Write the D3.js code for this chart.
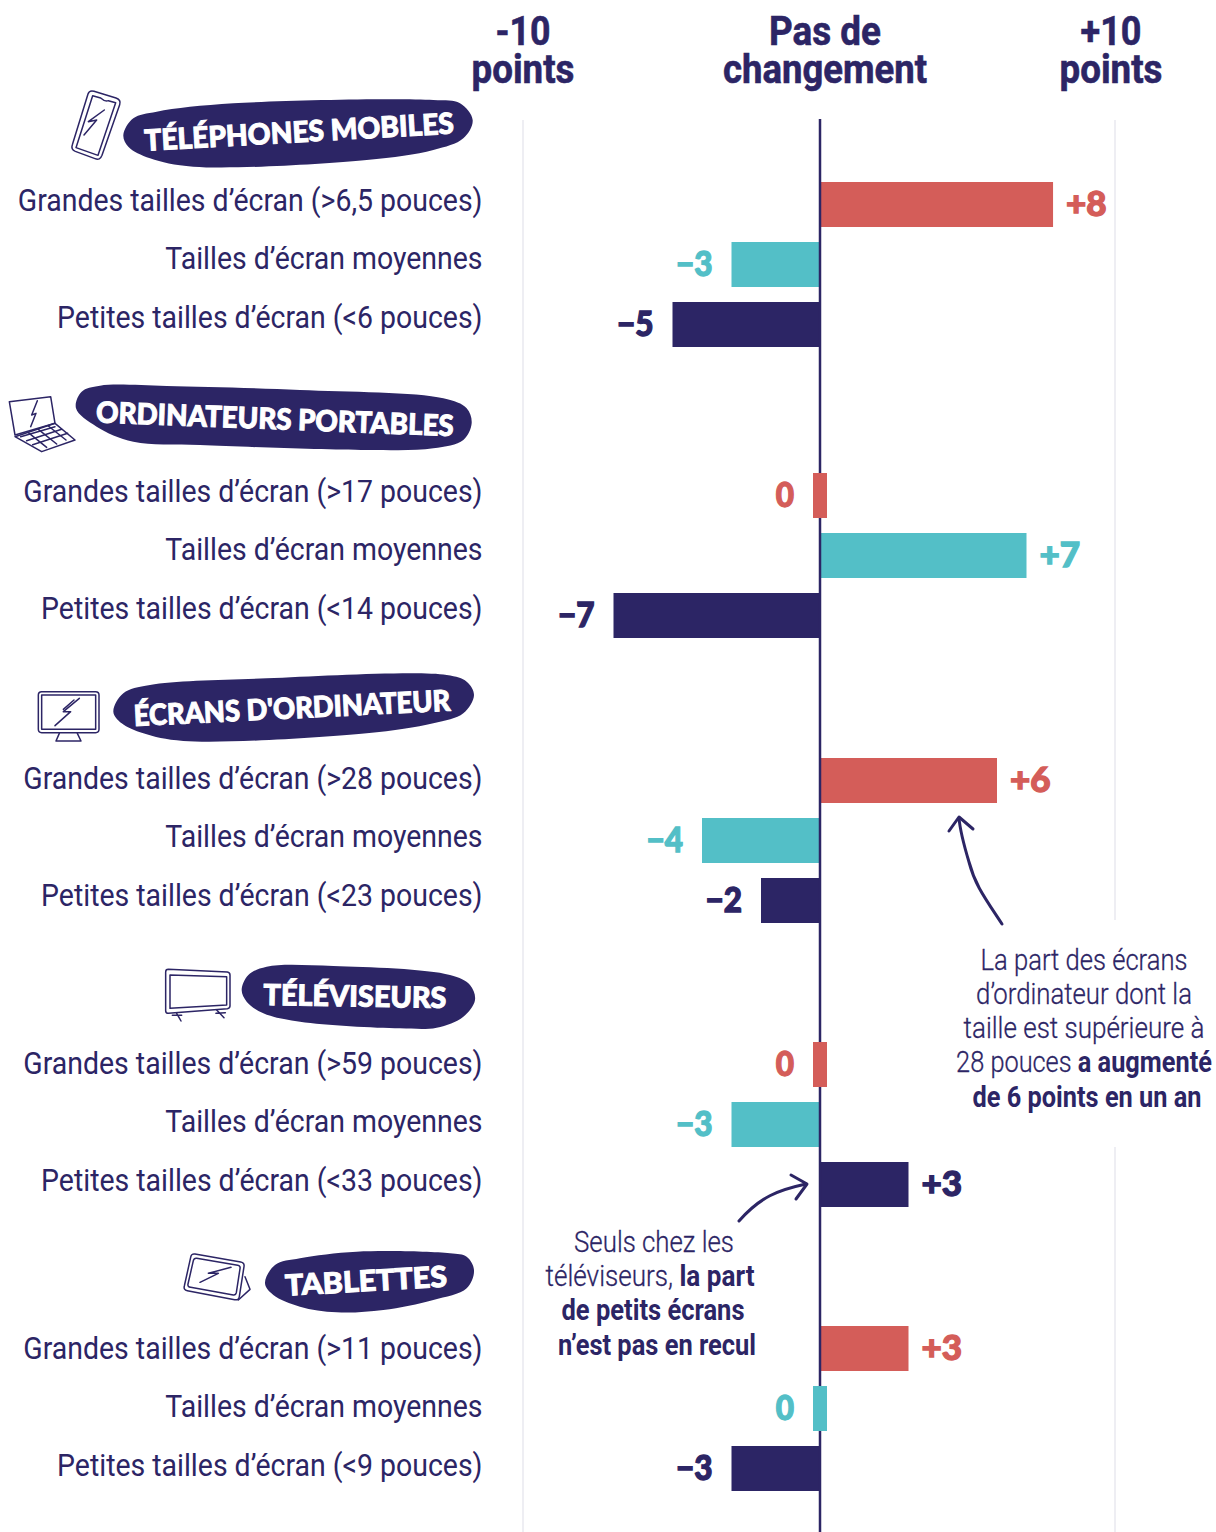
<!DOCTYPE html>
<html lang="fr">
<head>
<meta charset="utf-8">
<script src="https://cdn.jsdelivr.net/npm/d3@7"></script>
<style>
  body { margin: 0; background: #fff; }
  svg { display: block; }
  text { font-family: Roboto, sans-serif; fill: #2c2565; }
</style>
</head>
<body>
<div id="chart"></div>
<script>
// Data
const groupNames = ['TÉLÉPHONES MOBILES', 'ORDINATEURS PORTABLES', 'ÉCRANS D\'ORDINATEUR', 'TÉLÉVISEURS', 'TABLETTES'];
const rowNames = ['grandes', 'moyennes', 'petites'];
const rowLabels = [
  ['Grandes tailles d’écran (>6,5 pouces)', 'Tailles d’écran moyennes', 'Petites tailles d’écran (<6 pouces)'],
  ['Grandes tailles d’écran (>17 pouces)', 'Tailles d’écran moyennes', 'Petites tailles d’écran (<14 pouces)'],
  ['Grandes tailles d’écran (>28 pouces)', 'Tailles d’écran moyennes', 'Petites tailles d’écran (<23 pouces)'],
  ['Grandes tailles d’écran (>59 pouces)', 'Tailles d’écran moyennes', 'Petites tailles d’écran (<33 pouces)'],
  ['Grandes tailles d’écran (>11 pouces)', 'Tailles d’écran moyennes', 'Petites tailles d’écran (<9 pouces)']
];
const changes = [
  [7.9, -3, -5],
  [0, 7, -7],
  [6, -4, -2],
  [0, -3, 3],
  [3, 0, -3]
];
const gridValues = [-10, 10];

// Dimensions
const width = 1216;
const height = 1532;
const navy = '#2c2565';
const barHeight = 45;
const zeroStub = 7;

const svg = d3.select('#chart').append('svg').attr('width', width).attr('height', height);

// Scales
const xScale = d3.scaleLinear().domain([-10, 10]).range([525, 1115]);
const groupY = d3.scaleOrdinal(groupNames, [182, 473, 758, 1042, 1326]);
const labelY = d3.scaleOrdinal(groupNames, [211, 502, 789, 1074, 1359]);
const rowY = d3.scalePoint().domain(rowNames).range([0, 120]);
const labelRowY = d3.scalePoint().domain(rowNames).range([0, 116.5]);
const color = d3.scaleOrdinal(rowNames, ['#d45d59', '#53bfc7', navy]);

const rows = groupNames.flatMap((group, g) => rowNames.map((row, r) => ({
  group, row, label: rowLabels[g][r], value: changes[g][r]
})));

// Squeeze regular Roboto down to the condensed look of the original
function measure(el) { return el.getComputedTextLength(); }
function place(sel, x, y, k) { sel.attr('transform', `translate(${x},${y}) scale(${k},1)`); }

// Grid lines
svg.selectAll('.grid')
  .data(gridValues)
  .join('line')
  .attr('class', 'grid')
  .attr('x1', (d) => xScale(d) - (d < 0 ? 2 : 0)).attr('x2', (d) => xScale(d) - (d < 0 ? 2 : 0))
  .attr('y1', 120).attr('y2', height)
  .attr('stroke', '#eeeef3').attr('stroke-width', 2);

// White panel behind the right note cuts the +10 line
svg.append('rect').attr('x', 950).attr('y', 920).attr('width', 266).attr('height', 227).attr('fill', '#fff');

// Bars
const barX = (d) => d.value === 0 ? xScale(0) - zeroStub : Math.min(xScale(0), xScale(d.value));
const barW = (d) => d.value === 0 ? zeroStub * 2 : Math.abs(xScale(d.value) - xScale(0));
const barTop = (d) => groupY(d.group) + rowY(d.row);

function drawBars(data) {
  svg.append('g').selectAll('rect')
    .data(data)
    .join('rect')
    .attr('x', barX).attr('y', barTop)
    .attr('width', barW).attr('height', barHeight)
    .attr('fill', (d) => color(d.row));
}
drawBars(rows.filter((d) => d.value !== 0));

svg.append('line')
  .attr('x1', xScale(0)).attr('x2', xScale(0))
  .attr('y1', 119).attr('y2', height)
  .attr('stroke', navy).attr('stroke-width', 2.5);

drawBars(rows.filter((d) => d.value === 0));

// Value labels
const valueText = (d) => {
  const v = Math.round(d.value);
  return v > 0 ? `+${v}` : v < 0 ? `−${-v}` : '0';
};
svg.append('g').selectAll('text')
  .data(rows)
  .join('text')
  .text(valueText)
  .attr('text-anchor', (d) => d.value > 0 ? 'start' : 'end')
  .style('font-family', 'Lato, sans-serif')
  .attr('font-weight', 900).attr('font-size', 35)
  .style('fill', (d) => color(d.row))
  .style('stroke', (d) => color(d.row))
  .style('stroke-width', 1.3)
  .attr('transform', (d) => {
    const x = d.value > 0 ? xScale(d.value) + 13 : barX(d) - 19;
    return `translate(${x},${barTop(d) + 34}) scale(${d.value > 0 ? 1 : 0.9},1)`;
  });

// Row labels
const rowText = svg.append('g').selectAll('text')
  .data(rows)
  .join('text')
  .text((d) => d.label)
  .attr('text-anchor', 'end')
  .attr('font-size', 32);
const rowK = 465 / measure(rowText.nodes()[0]);
rowText.attr('transform', (d) => `translate(482.5,${labelY(d.group) + labelRowY(d.row)}) scale(${rowK},1)`);

// Header
const headerLines = [
  { text: '-10', x: 523, y: 45, w: 55 },
  { text: 'points', x: 523, y: 83, w: 103 },
  { text: 'Pas de', x: 825, y: 45, w: 112 },
  { text: 'changement', x: 825, y: 83, w: 204 },
  { text: '+10', x: 1111, y: 45, w: 61 },
  { text: 'points', x: 1111, y: 83, w: 103 }
];
svg.append('g').selectAll('text')
  .data(headerLines)
  .join('text')
  .text((d) => d.text)
  .attr('text-anchor', 'middle')
  .attr('font-size', 41).attr('font-weight', 700)
  .style('stroke', navy).style('stroke-width', 0.6)
  .each(function (d) { place(d3.select(this), d.x, d.y, d.w / measure(this)); });

// Title blobs, outlines traced by hand in 3x zoom coordinates
const blobs = [
  { dx: 0, dy: 80, pts: [[370,165],[400,115],[470,95],[700,70],[1300,60],[1380,70],[1418,120],[1390,175],[1300,210],[1100,240],[580,260],[450,235],[385,200]] },
  { dx: 0, dy: 80, pts: [[228,985],[245,935],[300,917],[500,918],[900,930],[1330,955],[1400,985],[1415,1030],[1390,1080],[1300,1105],[1100,1110],[600,1095],[400,1085],[290,1040]] },
  { dx: 0, dy: 660, pts: [[340,155],[370,100],[450,75],[800,55],[1340,45],[1400,65],[1422,105],[1390,160],[1300,190],[1100,220],[550,243],[430,220],[365,190]] },
  { dx: 0, dy: 660, pts: [[725,990],[745,945],[800,920],[1000,918],[1350,945],[1410,975],[1425,1020],[1390,1070],[1310,1103],[1200,1105],[900,1085],[790,1060],[740,1025]] },
  { dx: 150, dy: 1230, pts: [[345,160],[375,105],[450,85],[620,65],[900,70],[950,80],[972,120],[950,175],[850,210],[700,240],[560,247],[450,230],[370,195]] }
];
const blobLine = d3.line().curve(d3.curveCatmullRomClosed.alpha(0.5));
svg.append('g').selectAll('path')
  .data(blobs)
  .join('path')
  .attr('transform', (d) => `translate(${d.dx},${d.dy}) scale(${1 / 3})`)
  .attr('d', (d) => blobLine(d.pts))
  .attr('fill', navy);

const blobTitles = [
  { x: 299, y: 131, angle: -3.2, w: 310 },
  { x: 275, y: 418, angle: 2.2, w: 358 },
  { x: 292, y: 707, angle: -2.8, w: 317 },
  { x: 355, y: 995, angle: 1, w: 183 },
  { x: 366, y: 1280, angle: -3.2, w: 162 }
];
svg.append('g').selectAll('text')
  .data(groupNames)
  .join('text')
  .text((d) => d)
  .attr('text-anchor', 'middle')
  .attr('dominant-baseline', 'central')
  .style('font-family', 'Lato, sans-serif')
  .attr('font-weight', 900).attr('font-size', 29)
  .style('fill', '#fff')
  .style('stroke', '#fff').style('stroke-width', 1)
  .attr('transform', function (d, i) {
    const t = blobTitles[i];
    return `translate(${t.x},${t.y}) rotate(${t.angle}) scale(${t.w / measure(this)},1)`;
  });

// Icons, also in 3x zoom coordinates
const icons = [
  { dx: 0, dy: 80, paths: [
    'M282,34 L348,54 Q364,60 359,74 L306,226 Q300,242 285,236 L226,214 Q212,208 217,194 L264,42 Q268,30 282,34 Z',
    'M278,47 L302,54 Q315,66 325,62 L347,68 L294,226 L228,203 Z',
    'M313,90 L265,125 L290,120 L252,165'
  ] },
  { dx: 0, dy: 80, paths: [
    'M28,965 L152,950 L165,1030 L45,1065 Z',
    'M45,1070 L165,1030 L225,1080 L125,1115 Z',
    'M62,1070 L165,1040 M80,1082 L185,1048 M98,1094 L203,1060',
    'M85,1058 L140,1102 M115,1048 L170,1092 M145,1038 L198,1080',
    'M112,962 L95,1005 L108,1000 L92,1040'
  ] },
  { dx: 0, dy: 660, paths: [
    'M125,95 L287,95 Q297,95 297,105 L297,208 Q297,218 287,218 L125,218 Q115,218 115,208 L115,105 Q115,95 125,95 Z',
    'M125,105 L287,105 L287,208 L125,208 Z',
    'M178,220 L168,243 L243,243 L232,220',
    'M238,115 L190,155 L212,155 L165,197',
    'M222,120 L190,148'
  ] },
  { dx: 0, dy: 660, paths: [
    'M505,928 L682,936 Q690,937 690,945 L690,1038 Q690,1045 682,1046 L505,1060 Q497,1060 497,1052 L497,936 Q497,928 505,928 Z',
    'M510,945 L680,950 L680,1035 L510,1045 Z',
    'M530,1060 L543,1083 M517,1066 L545,1066',
    'M650,1050 L672,1073 M648,1060 L676,1058'
  ] },
  { dx: 150, dy: 1230, paths: [
    'M135,72 L272,96 Q284,98 282,110 L268,200 Q266,212 254,209 L112,182 Q100,180 103,168 L122,82 Q124,70 135,72 Z',
    'M140,85 L263,106 Q272,108 270,116 L259,188 Q257,196 250,195 L122,172 Q112,170 114,162 L130,92 Q132,84 140,85 Z',
    'M285,140 L300,178 L265,210',
    'M150,157 L205,130 L175,130 L243,112'
  ] }
];
svg.append('g').selectAll('g')
  .data(icons)
  .join('g')
  .attr('transform', (d) => `translate(${d.dx},${d.dy}) scale(${1 / 3})`)
  .selectAll('path')
  .data((d) => d.paths)
  .join('path')
  .attr('d', (d) => d)
  .attr('fill', 'none')
  .attr('stroke', navy)
  .attr('stroke-width', 4.5)
  .attr('stroke-linejoin', 'round')
  .attr('stroke-linecap', 'round');

// Notes
const noteLines = [
  { x: 1084, y: 970, w: 207, parts: [['La part des écrans', 0]] },
  { x: 1084, y: 1004, w: 216, parts: [['d’ordinateur dont la', 0]] },
  { x: 1084, y: 1038, w: 241, parts: [['taille est supérieure à', 0]] },
  { x: 1084, y: 1072, w: 256, parts: [['28 pouces ', 0], ['a augmenté', 1]] },
  { x: 1087, y: 1107, w: 229, parts: [['de 6 points en un an', 1]] },
  { x: 654, y: 1252, w: 160, parts: [['Seuls chez les', 0]] },
  { x: 650, y: 1286, w: 209, parts: [['téléviseurs, ', 0], ['la part', 1]] },
  { x: 653, y: 1320, w: 183, parts: [['de petits écrans', 1]] },
  { x: 657, y: 1355, w: 198, parts: [['n’est pas en recul', 1]] }
];
svg.append('g').selectAll('text')
  .data(noteLines)
  .join('text')
  .attr('text-anchor', 'middle')
  .attr('font-size', 29)
  .each(function (d) {
    const t = d3.select(this);
    d.parts.forEach(([s, bold]) => t.append('tspan')
      .attr('font-weight', bold ? 700 : 300)
      .style('stroke', bold ? 'none' : navy)
      .style('stroke-width', 0.3)
      .text(s));
    place(t, d.x, d.y, d.w / measure(this));
  });

// Arrows
const arrows = [
  { d: 'M1002,924 C985,898 975,885 969,862 C963,842 960,830 959,818', head: 'M949,831 L959,817 L973,829' },
  { d: 'M739,1221 C760,1197 778,1190 806,1184', head: 'M791,1175 L807,1184 L796,1199' }
];
svg.append('g').selectAll('path')
  .data(arrows.flatMap((a) => [a.d, a.head]))
  .join('path')
  .attr('d', (d) => d)
  .attr('fill', 'none')
  .attr('stroke', navy)
  .attr('stroke-width', 3)
  .attr('stroke-linecap', 'round')
  .attr('stroke-linejoin', 'round');
</script>
</body>
</html>
